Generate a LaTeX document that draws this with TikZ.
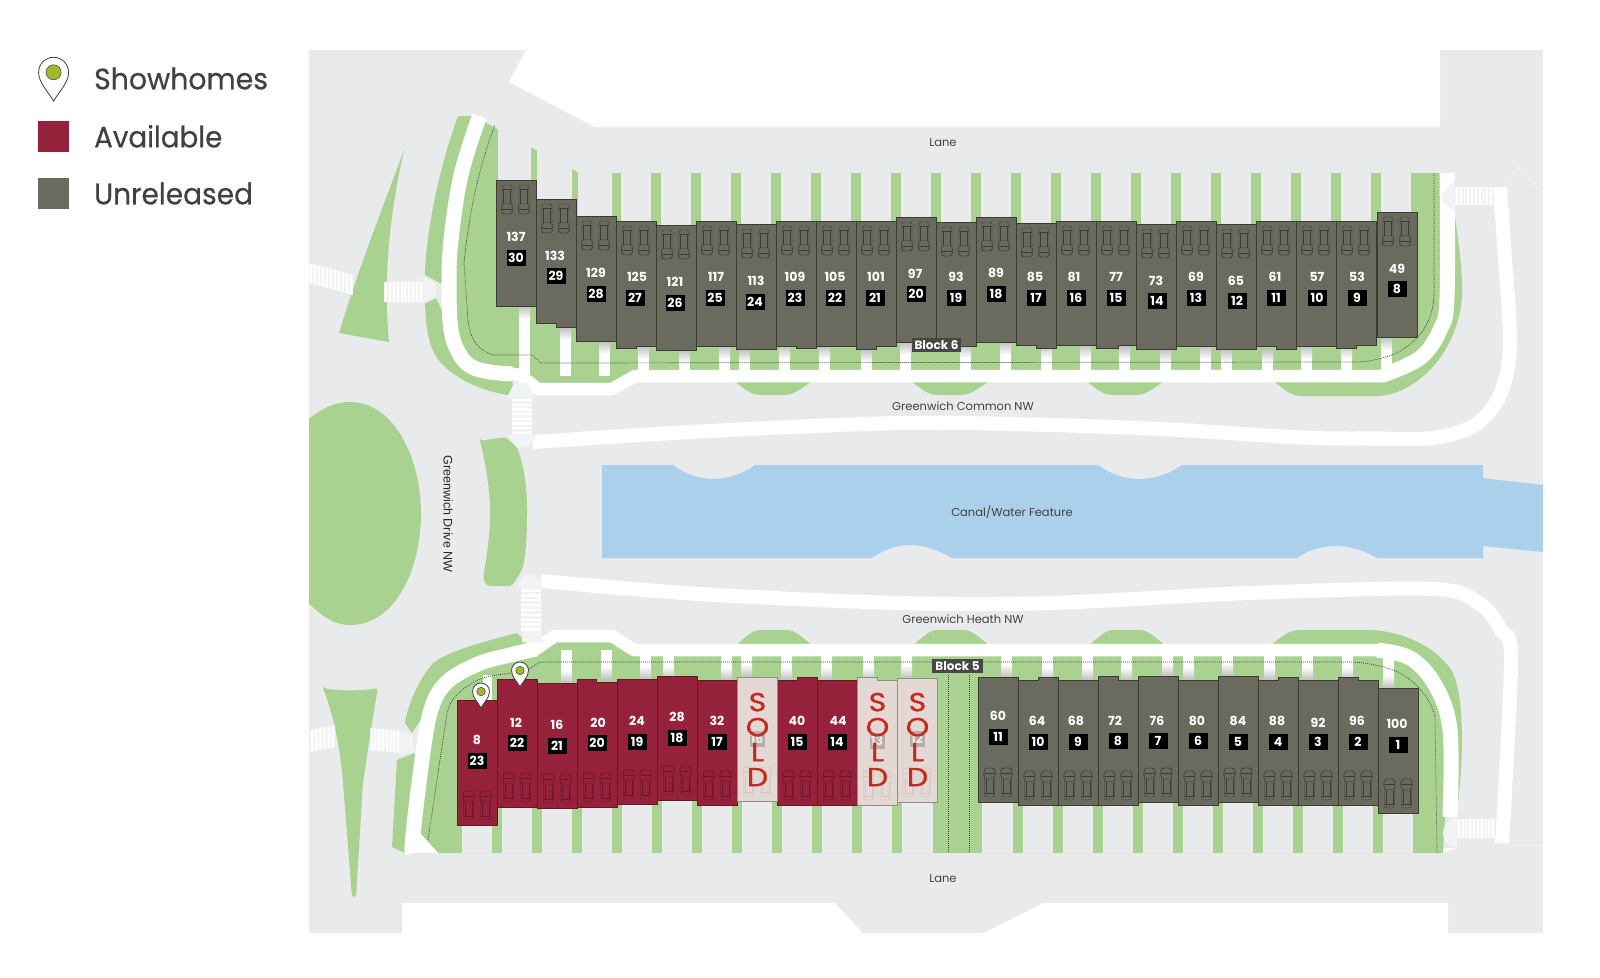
\documentclass[tikz,border=0pt]{standalone}
\usepackage{fontspec}
\setmainfont{Poppins}
\newfontfamily\arialish{Liberation Sans}
\newfontfamily\legendfont[FakeBold=0.5]{Poppins}
\newfontfamily\soldfont[FakeBold=1.0]{Poppins}
\definecolor{panel}{HTML}{E9EAEC}
\definecolor{grn}{HTML}{A9D291}
\definecolor{wat}{HTML}{ABD0EB}
\definecolor{redh}{HTML}{96213A}
\definecolor{redl}{HTML}{6A1628}
\definecolor{gryh}{HTML}{6A6A5F}
\definecolor{gryl}{HTML}{3B3D32}
\definecolor{soldh}{HTML}{E4D8D4}
\definecolor{soldl}{HTML}{8F8C8A}
\definecolor{soldt}{HTML}{C62A1E}
\definecolor{txt}{HTML}{3F4144}
\definecolor{pinb}{HTML}{3C3F3A}
\definecolor{pinf}{HTML}{A4B82E}
\definecolor{hatch}{HTML}{F2F3F4}
\tikzset{
  walk/.style={draw=white,line width=15pt,line join=round,line cap=butt},
  walkb/.style={draw=white,line width=12.5pt,line join=round,line cap=butt},
  strip/.style={draw=white,line width=14pt,line join=round,line cap=butt},
  dots/.style={draw=pinb,line width=0.7pt,dash pattern=on 0.9pt off 1.1pt},
  redhouse/.style={fill=redh,draw=redl,line width=0.8pt},
  gryhouse/.style={fill=gryh,draw=gryl,line width=0.8pt},
  soldhouse/.style={fill=soldh,draw=soldl,line width=0.8pt},
  numlabel/.style={text=white,inner sep=0pt,font=\fontsize{12.5}{13}\selectfont\bfseries},
  boxlabel/.style={fill=black,text=white,minimum width=19pt,minimum height=15.5pt,inner sep=0pt,font=\fontsize{12.5}{13}\selectfont\bfseries},
  faintbox/.style={fill=black!20!soldh,text=soldh!60!white,minimum width=15pt,minimum height=15.5pt,inner sep=0pt,font=\fontsize{12.5}{13}\selectfont\bfseries},
  soldlabel/.style={text=soldt,align=center,inner sep=0pt,font=\soldfont\fontsize{26}{25}\selectfont},
  road/.style={text=txt,inner sep=0pt,font=\fontsize{11.5}{12}\selectfont},
  blocktag/.style={fill=black!72,text=white,inner sep=0pt,minimum height=14pt,font=\fontsize{12}{13}\selectfont\bfseries},
  legendtext/.style={text=txt,anchor=base west,inner sep=0pt,font=\legendfont\fontsize{29.5}{30}\selectfont},
}
% one parked car, centre at (#1,#2), hood on side #3 (1 below, -1 above)
\newcommand\carshape[4]{%
  \begin{scope}[shift={(#1,#2)},yscale=#3,draw=#4,line width=0.4pt]
    \draw[rounded corners=2.5pt] (-5,-14.5) rectangle (5,14.5);
    \draw (-5,-10.5) -- (5,-10.5);
    \draw (-3.4,-10.5) -- (-3.4,4) (3.4,-10.5) -- (3.4,4);
    \draw[rounded corners=3pt] (-5.6,4) rectangle (5.6,14.5);
    \draw (-5,9.5) -- (5,9.5);
  \end{scope}}
\newcommand\houseshape[8]{%
  \draw[#1] (#2,#3) -- ({#2+#5},#3) -- ({#2+#5},#4) -- ({#2+40},#4) -- ({#2+40},#7) -- ({#2+#8},#7) -- ({#2+#8},#6) -- (#2,#6) -- cycle;}
\newcommand\pinmark[3]{%
  \begin{scope}[shift={(#1,#2)},scale=#3]
    \filldraw[fill=white,draw=pinb,line width=0.8pt] (0,1.92) .. controls (-0.35,1.3) and (-1,0.7) .. (-1,0) .. controls (-1,-0.55) and (-0.55,-1) .. (0,-1) .. controls (0.55,-1) and (1,-0.55) .. (1,0) .. controls (1,0.7) and (0.35,1.3) .. (0,1.92) -- cycle;
    \filldraw[fill=pinf,draw=pinb,line width=0.5pt] (-0.5,0) .. controls (-0.5,-0.28) and (-0.28,-0.5) .. (0,-0.5) .. controls (0.28,-0.5) and (0.5,-0.28) .. (0.5,0) .. controls (0.5,0.28) and (0.28,0.5) .. (0,0.5) .. controls (-0.28,0.5) and (-0.5,0.28) .. (-0.5,0) -- cycle;
  \end{scope}}
% crosswalk, stripes across x: x y w h n
\newcommand\xwv[5]{%
  \fill[hatch] (#1,#2) rectangle ({#1+#3},{#2+#4});
  \pgfmathsetmacro\xwstep{#3/#5}
  \foreach \i in {1,...,#5} \fill[white] ({#1+(\i-0.75)*\xwstep},#2) rectangle ({#1+(\i-0.25)*\xwstep},{#2+#4});}
\newcommand\xwh[5]{%
  \fill[hatch] (#1,#2) rectangle ({#1+#3},{#2+#4});
  \pgfmathsetmacro\xwstep{#4/#5}
  \foreach \i in {1,...,#5} \fill[white] (#1,{#2+(\i-0.75)*\xwstep}) rectangle ({#1+#3},{#2+(\i-0.25)*\xwstep});}
\begin{document}
\begin{tikzpicture}[x=1pt,y=-1pt]
\useasboundingbox (0,0) rectangle (1600,977);
\fill[white] (0,0) rectangle (1600,977);
% ground
\fill[panel] (309,50) rectangle (1543,933);
\fill[white] (509,82) -- (526,50) -- (1440,50) -- (1440,127) -- (595,127) -- cycle;
\fill[white] (402,903) -- (835,903) -- (863,933) -- (402,933) -- cycle;
\fill[white] (983,933) -- (1043,903) -- (1448,903) -- (1448,933) -- cycle;
\draw[hatch,line width=0.8pt] (1505,185) -- (1518,167) -- (1540,190);
\draw[hatch,line width=0.8pt] (1510,845) -- (1543,845);
% water
\fill[wat] (602,465) -- (673,465) .. controls (685,474) and (700,479) .. (713,479) .. controls (728,479) and (743,474) .. (755,465) -- (1098,465) .. controls (1110,474) and (1125,479) .. (1138,479) .. controls (1153,479) and (1170,474) .. (1182,465) -- (1483,465) -- (1483,478) -- (1543,485) -- (1543,552) -- (1483,546) -- (1483,558) -- (1377,558) .. controls (1365,551) and (1350,546) .. (1335,546) .. controls (1320,546) and (1307,551) .. (1297,558) -- (952,558) .. controls (940,551) and (925,545) .. (910,545) .. controls (895,545) and (882,551) .. (872,558) -- (602,558) -- cycle;
% islands
\begin{scope}
  \clip (309,50) rectangle (1543,933);
  \fill[grn] (350,402) .. controls (395,402) and (421,460) .. (421,513) .. controls (421,570) and (395,625) .. (350,625) .. controls (330,625) and (318,612) .. (300,595) -- (300,425) .. controls (318,412) and (330,402) .. (350,402) -- cycle;
\end{scope}
\fill[grn,rounded corners=3pt] (480,441) -- (505,437) -- (517,447) .. controls (525,470) and (527,490) .. (527,513) .. controls (527,540) and (525,560) .. (522,570) -- (512,586) -- (487,586) -- (483,578) .. controls (488,550) and (490,530) .. (490,513) .. controls (490,490) and (486,465) .. (480,441) -- cycle;
\fill[grn] (404,150) .. controls (380,215) and (358,270) .. (339,333) -- (389,342) .. controls (385,300) and (384,240) .. (404,150) -- cycle;
\fill[grn,rounded corners=2.5pt] (323,688) .. controls (340,691) and (360,691) .. (378,688) .. controls (372,720) and (368,750) .. (363,783) -- (356,897) -- (352,897) -- (343,783) .. controls (340,750) and (335,720) .. (323,688) -- cycle;
% block 6 landscape
\fill[grn] (458,116) .. controls (438,170) and (425,240) .. (425,275) -- (440,283) -- (452,283) -- (461,175) -- (479,116) -- cycle;
\fill[grn] (425,302) .. controls (426,340) and (432,355) .. (445,367) .. controls (465,385) and (490,392) .. (507,395) -- (515,392) -- (510,374) -- (472,367) -- (451,330) -- (436,298) -- cycle;
\fill[grn] (475,117) -- (579,173) -- (1440,173) -- (1447,297) .. controls (1445,345) and (1420,376) .. (1383,376) -- (635,376) -- (612,389) -- (538,389) -- (510,374) -- (472,367) -- (451,330) -- (449,283) -- (451,240) -- (479,117) -- cycle;
\foreach \x in {733,910,1085} \fill[grn] (\x,380) .. controls ({\x+10},388) and ({\x+18},395) .. ({\x+27},395) -- ({\x+52},395) .. controls ({\x+60},395) and ({\x+70},388) .. ({\x+80},380) -- cycle;
\fill[grn] (1273,380) .. controls (1282,388) and (1290,396) .. (1302,396) -- (1380,396) .. controls (1420,392) and (1458,350) .. (1462,297) .. controls (1463,270) and (1458,240) .. (1455,217) -- (1447,217) -- (1447,297) .. controls (1445,345) and (1420,376) .. (1383,376) -- cycle;
% block 6 drive courts
\fill[panel] (498,129) -- (531,147) -- (531,240) -- (498,240) -- cycle;
\fill[panel] (537,150) -- (572,168.5) -- (572,240) -- (537,240) -- cycle;
\fill[panel] (578,172) -- (578,173) -- (612,173) -- (612,240) -- (578,240) -- cycle;
\foreach \x in {620,660,...,1380} \fill[panel] ({\x+1},173) rectangle ({\x+31},240);
% block 5 landscape
\fill[grn] (517,633) .. controls (490,640) and (450,650) .. (433,663) .. controls (418,680) and (408,705) .. (405,723) -- (412,733) -- (440,690) -- (478,664) -- (527,642) -- cycle;
\fill[grn] (397,760) -- (415,753) -- (412,853) -- (405,853) -- (392,847) -- cycle;
\fill[grn] (412.5,853) -- (412.5,840) -- (430,713) -- (446,683) -- (478,664) -- (533,651) -- (555,636) -- (612,636) -- (634,650) -- (1377,650) .. controls (1420,652) and (1450,690) .. (1450,730) -- (1443,853) -- cycle;
\foreach \x in {735,912,1088} \fill[grn] (\x,646) .. controls ({\x+10},638) and ({\x+17},630) .. ({\x+25},630) -- ({\x+52},630) .. controls ({\x+60},630) and ({\x+68},638) .. ({\x+78},646) -- cycle;
\fill[grn] (1270,646) .. controls (1280,638) and (1288,630) .. (1300,630) -- (1367,630) .. controls (1405,630) and (1440,650) .. (1453,673) .. controls (1463,695) and (1465,750) .. (1457,810) -- (1450,810) -- (1450,730) .. controls (1450,690) and (1420,652) .. (1377,650) -- cycle;
% block 5 drive courts
\foreach \x in {462,502,...,862} \fill[panel] (\x,760) rectangle ({\x+30},853);
\fill[panel] (902,760) rectangle (933,853);
\fill[panel] (982,760) rectangle (1013,853);
\foreach \x in {1023,1063,...,1383} \fill[panel] (\x,760) rectangle ({\x+30},853);
% sidewalks: block 6
\draw[walk] plot[smooth,tension=0.6] coordinates {(479.5,116) (461,175) (451,240) (449,283) (451,330) (460,355) (472,367) (490,372) (512,374)};
\draw[walkb] (508,373) -- (520,375) -- (538,389) -- (612,389) -- (635,376) -- (1385,376);
\draw[walk] plot[smooth,tension=0.6] coordinates {(1383,375) (1420,358) (1440,330) (1447,297) (1447,173)};
\fill[white] (1440,173) -- (1455,182) -- (1440,190) -- cycle;
% sidewalks: block 5
\draw[walk] plot[smooth,tension=0.6] coordinates {(412.5,853) (412.5,840) (420,775) (430,713) (446,683) (478,664) (510,655) (536,649)};
\fill[white] (405,840) -- (405,853) -- (438,853) -- (420,833) -- cycle;
\draw[walkb] (533,651) -- (555,636) -- (612,636) -- (634,650) -- (1380,650);
\draw[walk] plot[smooth,tension=0.6] coordinates {(1377,650) (1410,658) (1435,685) (1450,730) (1450,817)};
% outer white strips
\draw[strip] plot[smooth,tension=0.55] coordinates {(533,442) (700,431.5) (900,423) (1050,425) (1180,430) (1300,437.5) (1370,438.5) (1433,438) (1475,425) (1500,395) (1510,345) (1505,260) (1500,187)};
\draw[strip] plot[smooth,tension=0.55] coordinates {(541,581) (700,594) (900,603) (1050,603) (1250,593) (1433,589) (1480,604) (1501,630) (1511,660) (1502,843)};
% crosswalks
\begin{scope}[shift={(309,263)},yslant=-0.27]\xwv{0}{0}{44}{20}{11}\end{scope}
\xwv{384}{282}{39}{20}{10}
\fill[hatch] (423,277) -- (436,283) -- (436,298) -- (423,304) -- cycle;
\begin{scope}[shift={(310,730)},yslant=0.2]\xwv{0}{0}{25}{22}{6}\end{scope}
\begin{scope}[shift={(370,728)},yslant=-0.1]\xwv{0}{0}{30}{22}{8}\end{scope}
\fill[hatch] (400,732) -- (412,734) -- (414,752) -- (400,755) -- cycle;
\fill[hatch] (507,398) -- (514,383) -- (528,383) -- (535,398) -- cycle;
\xwh{512}{398}{20}{37}{8}
\fill[hatch] (507,435) -- (537,435) -- (528,447) -- (516,447) -- cycle;
\fill[hatch] (517,588) -- (524,575) -- (535,575) -- (543,588) -- cycle;
\xwh{521}{588}{20}{44}{9}
\fill[hatch] (522,632) -- (541,632) -- (543,642) -- (522,642) -- cycle;
\xwv{1455}{187}{38}{18}{10}
\fill[hatch] (1455,180) -- (1443,192) -- (1443,203) -- (1455,212) -- cycle;
\xwv{1457}{819}{38}{19}{10}
\fill[hatch] (1457,817) .. controls (1447,820) and (1443,826) .. (1443,833) .. controls (1443,840) and (1447,846) .. (1457,848) -- cycle;
\fill[white] (1443,848) -- (1457,848) -- (1443,853) -- cycle;
% entry stubs, block 6
\foreach \x/\t in {519/306,560/327,599/341,638/346,679/350,719/346,739/349,779/346,819/346,861/349,900/342,960/345,1000/342,1041/345,1080/345,1119/346,1160/349,1200/346,1221/349,1262/349,1301/346,1341/345,1381/337} {
  \fill[white] (\x,\t) rectangle ({\x+11},376);
  \shade[top color=black!18!panel,bottom color=white] (\x,\t) rectangle ({\x+11},{\t+13});
}
% entry stubs, block 5
\foreach \x/\t in {561/683,601/679,640/679,663/679,721/680,741/677,781/680,821/680,863/680,901/678,1001/677,1042/680,1082/680,1121/680,1162/676,1183/680,1222/676,1264/680,1302/680,1342/680,1383/688} {
  \fill[white] (\x,650) rectangle ({\x+11},\t);
  \shade[bottom color=black!18!panel,top color=white] (\x,{\t-13}) rectangle ({\x+11},\t);
}
\fill[white] (483,675) rectangle (492,702);
% property lines
\draw[dots] (1434,173) -- (1434,297) .. controls (1432,323) and (1420,340) .. (1397,353) .. controls (1385,358) and (1370,362) .. (1353,362) -- (541,363) -- (532,355) -- (493,355) .. controls (478,350) and (470,340) .. (468,320) -- (464,263) .. controls (470,200) and (485,150) .. (495,125);
\draw[dots] (428,840) -- (447,713) .. controls (450,702) and (455,696) .. (460,692) .. controls (468,684) and (480,678) .. (490,676) -- (525,671) .. controls (530,670) and (535,664) .. (540,662) -- (1353,662) .. controls (1370,663) and (1385,667) .. (1393,670) .. controls (1410,676) and (1430,695) .. (1435,717) -- (1437,853);
\draw[dots] (948,675) -- (948,852);
\draw[dots] (969,675) -- (969,852);
% block 6 houses
\foreach \L/\tl/\tr/\ts/\bl/\br/\bs/\num/\nx/\ny/\bn/\bx/\by in {
 496/180/180/0/306/306/0/137/516/237/30/516/258,
 536/199/199/0/323/327/20/133/555/256/29/556/276,
 576/216/216/0/341/341/0/129/596/273/28/596/294,
 616/221/221/0/348/346/20/125/637/277/27/635/298,
 656/225/225/0/350/350/0/121/675/282/26/675/303,
 696/221/221/0/346/346/0/117/716/277/25/715/298,
 736/224/224/0/349/349/0/113/756/281/24/755/302,
 776/221/221/0/346/348/20/109/795/277/23/795/298,
 816/221/221/0/346/346/0/105/835/277/22/835/298,
 856/221/221/0/349/346/20/101/876/277/21/875/298,
 896/217/217/0/342/342/0/97/915/274/20/916/294,
 936/222/222/0/346/346/0/93/956/277/19/956/298,
 976/217/217/0/342/342/0/89/996/273/18/996/294,
 1016/223/223/0/345/348/20/85/1035/277/17/1036/298,
 1056/221/221/0/345/345/0/81/1074/277/16/1076/298,
 1096/221/221/0/348/345/22/77/1116/277/15/1116/298,
 1136/224/224/0/349/349/0/73/1156/281/14/1157/301,
 1176/221/221/0/346/346/0/69/1196/277/13/1196/298,
 1216/224/224/0/349/349/0/65/1236/281/12/1237/301,
 1256/221/221/0/346/349/20/61/1275/277/11/1276/298,
 1296/221/221/0/346/346/0/57/1317/277/10/1317/298,
 1336/221/221/0/348/345/20/53/1357/277/9/1357/298,
 1377/212/212/0/337/337/0/49/1397/269/8/1397/289} {
  \houseshape{gryhouse}{\L}{\tl}{\tr}{\ts}{\bl}{\br}{\bs}
  \carshape{\L+11}{\tl+19.5}{1}{gryl}
  \carshape{\L+28}{\tl+19.5}{1}{gryl}
  \node[numlabel] (north\num) at (\nx,\ny) {\num};
  \node[boxlabel] (northb\num) at (\bx,\by) {\bn};
}
% block 5 available houses
\foreach \L/\tl/\tr/\ts/\bl/\br/\bs/\num/\nx/\ny/\bn/\bx/\by in {
 457/700/700/0/825/825/0/8/477/740/23/477/761,
 497/679/679/0/807/807/0/12/516/723/22/517/743,
 537/683/683/0/808/808/0/16/557/725/21/557/746,
 577/679/682/19/807/807/0/20/598/723/20/597/743,
 617/679/679/0/804/804/0/24/637/721/19/637/742,
 657/676/676/0/800/800/0/28/677/717/18/677/738,
 697/680/680/0/805/805/0/32/717/721/17/717/742,
 777/680/677/20/805/805/0/40/797/721/15/797/742,
 817/680/680/0/805/805/0/44/838/721/14/837/742} {
  \houseshape{redhouse}{\L}{\tl}{\tr}{\ts}{\bl}{\br}{\bs}
  \carshape{\L+11.5}{\bl-19.5}{-1}{redl}
  \carshape{\L+28.5}{\bl-19.5}{-1}{redl}
  \node[numlabel] (south\num) at (\nx,\ny) {\num};
  \node[boxlabel] (southb\num) at (\bx,\by) {\bn};
}
% block 5 sold houses
\foreach \L/\tl/\tr/\ts/\bl/\br/\bs/\bn/\bx/\by in {
 737/677/677/0/801/801/0/16/757/739,
 857/677/680/20/805/805/0/13/877/741,
 897/678/678/0/802/802/0/12/917/739} {
  \houseshape{soldhouse}{\L}{\tl}{\tr}{\ts}{\bl}{\br}{\bs}
  \carshape{\L+11.5}{\bl-19.5}{-1}{black!8!soldh}
  \carshape{\L+28.5}{\bl-19.5}{-1}{black!8!soldh}
  \node[faintbox] (southb\bn) at (\bx,\by) {\bn};
  \node[soldlabel,xscale=1.15] (sold\bn) at ({\L+20.5},739.5) {S\\O\\L\\D};
}
% block 5 unreleased houses
\foreach \L/\tl/\tr/\ts/\bl/\br/\bs/\num/\nx/\ny/\bn/\bx/\by in {
 978/677/677/0/802/802/0/60/998/716/11/998/737,
 1018/680/677/20/805/805/0/64/1037/721/10/1038/742,
 1058/680/680/0/805/805/0/68/1076/721/9/1078/742,
 1098/676/680/20/805/805/0/72/1115/721/8/1118/741,
 1138/676/676/0/802/802/0/76/1157/721/7/1158/741,
 1178/680/680/0/805/805/0/80/1197/721/6/1198/741,
 1218/676/676/0/802/802/0/84/1238/721/5/1238/742,
 1258/680/677/20/805/805/0/88/1277/721/4/1278/742,
 1298/680/680/0/805/805/0/92/1318/723/3/1318/742,
 1338/677/680/20/805/805/0/96/1357/721/2/1358/742,
 1378/688/688/0/813/813/0/100/1397/724/1/1398/745} {
  \houseshape{gryhouse}{\L}{\tl}{\tr}{\ts}{\bl}{\br}{\bs}
  \carshape{\L+11.5}{\bl-19.5}{-1}{gryl}
  \carshape{\L+28.5}{\bl-19.5}{-1}{gryl}
  \node[numlabel] (south\num) at (\nx,\ny) {\num};
  \node[boxlabel] (southx\num) at (\bx,\by) {\bn};
}
% showhome pins
\pinmark{481}{691.5}{8.5}
\pinmark{520}{670.5}{8.5}
% block tags and road names
\node[blocktag,minimum width=49pt] (block6) at (936.5,345) {Block 6};
\node[blocktag,minimum width=51pt] (block5) at (957.5,666) {Block 5};
\node[road] (laneN) at (943,143) {Lane};
\node[road] (laneS) at (943,879) {Lane};
\node[road] (common) at (963,406.5) {Greenwich Common NW};
\node[road] (heath) at (963,619) {Greenwich Heath NW};
\node[road] (canal) at (1012,512) {Canal/Water Feature};
\node[text=black!85,inner sep=0pt,rotate=-90,font=\arialish\fontsize{12.5}{13}\selectfont] (drive) at (448,514) {Greenwich Drive NW};
% legend
\pinmark{53.6}{72.3}{15}
\fill[redh] (38,120.7) rectangle (69,152);
\fill[gryh] (38,178) rectangle (69,209);
\node[legendtext,xscale=0.96] (lg1) at (94,89.3) {Showhomes};
\node[legendtext,xscale=0.94] (lg2) at (94,147.4) {Available};
\node[legendtext,xscale=0.95] (lg3) at (94,204.3) {Unreleased};
\end{tikzpicture}
\end{document}
